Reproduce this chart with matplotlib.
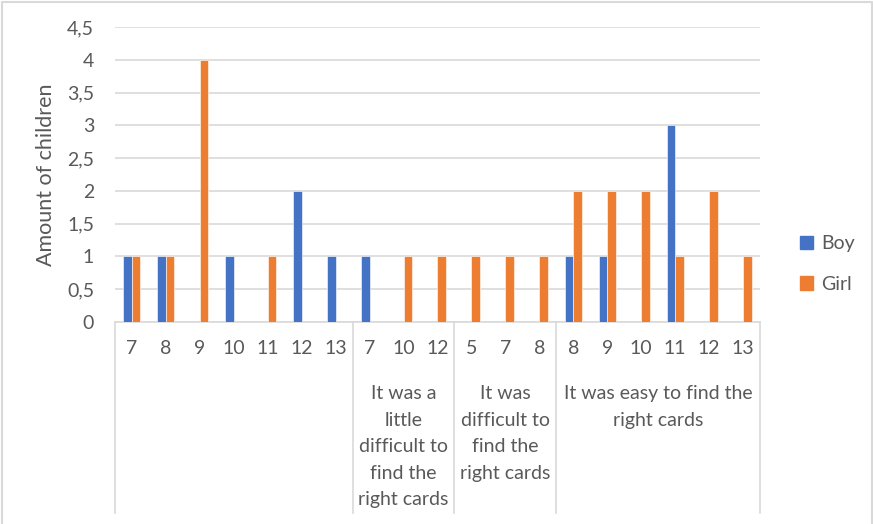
import numpy as np
import matplotlib.pyplot as plt
from matplotlib.lines import Line2D
from matplotlib.patches import Patch
import matplotlib.transforms as mtransforms

# Datos del gráfico
grupos = ["",
          "It was a\nlittle\ndifficult to\nfind the\nright cards",
          "It was\ndifficult to\nfind the\nright cards",
          "It was easy to find the\nright cards"]
edades = [["7", "8", "9", "10", "11", "12", "13"],
          ["7", "10", "12"],
          ["5", "7", "8"],
          ["8", "9", "10", "11", "12", "13"]]
boy = [1, 1, 0, 1, 0, 2, 1,
       1, 0, 0,
       0, 0, 0,
       1, 1, 0, 3, 0, 0]
girl = [1, 1, 4, 0, 1, 0, 0,
        0, 1, 1,
        1, 1, 1,
        2, 2, 2, 1, 2, 1]
yticks = [0, 0.5, 1, 1.5, 2, 2.5, 3, 3.5, 4, 4.5]

plt.rcParams['font.family'] = ['Lato', 'DejaVu Sans']
gris = "#595959"
linea = "#D9D9D9"
fs = 14

W, H = 873, 524
fig = plt.figure(figsize=(W / 100, H / 100), dpi=100)
x0, x1, y0, y1 = 115, 760, 322, 27
ax = fig.add_axes([x0 / W, 1 - y0 / H, (x1 - x0) / W, (y0 - y1) / H])

etiquetas = [e for g in edades for e in g]
x = np.arange(len(etiquetas))
ancho = 0.25
ax.bar(x - ancho / 2, boy, ancho, color="#4472C4", edgecolor="white", linewidth=0.4, label="Boy", zorder=3)
ax.bar(x + ancho / 2, girl, ancho, color="#ED7D31", edgecolor="white", linewidth=0.4, label="Girl", zorder=3)

ax.set_xlim(-0.5, len(etiquetas) - 0.5)
ax.set_ylim(0, 4.5)
ax.set_yticks(yticks)
ax.set_yticklabels([f"{v:g}".replace(".", ",") for v in yticks])
ax.set_xticks(x)
ax.set_xticklabels(etiquetas)
ax.tick_params(axis="both", length=0, labelsize=fs, labelcolor=gris)
ax.tick_params(axis="y", pad=15)
ax.tick_params(axis="x", pad=13)
ax.grid(axis="y", color=linea, linewidth=1.2, zorder=0)
for s in ["top", "right", "left"]:
    ax.spines[s].set_visible(False)
ax.spines["bottom"].set_color(linea)
ax.spines["bottom"].set_linewidth(1.2)
ax.set_ylabel("Amount of children", fontsize=15.5, color=gris, labelpad=8)

# Eje de categorías en dos niveles
trans = mtransforms.blended_transform_factory(ax.transData, ax.transAxes)
y_fondo = (y0 - 513) / (y0 - y1)
y_texto = (y0 - 385) / (y0 - y1)
inicio = 0
limites = [-0.5]
for g, e in zip(grupos, edades):
    fin = inicio + len(e)
    limites.append(fin - 0.5)
    centro = (inicio + fin - 1) / 2
    ax.text(centro, y_texto, g, transform=trans, ha="center", va="top",
            fontsize=fs, color=gris, linespacing=1.68)
    inicio = fin
for b in limites:
    ax.add_line(Line2D([b, b], [0, y_fondo], transform=trans, color=linea,
                       linewidth=1.2, clip_on=False))

# Leyenda
handles = [Patch(color="#4472C4", label="Boy"), Patch(color="#ED7D31", label="Girl")]
fig.legend(handles=handles, loc="center left", bbox_to_anchor=(782 / W, 1 - 264 / H),
           frameon=False, fontsize=fs, labelcolor=gris, handlelength=0.7,
           handleheight=0.7, handletextpad=0.4, labelspacing=1.2)

# Borde del área del gráfico
fig.add_artist(Line2D([1.5 / W, 1.5 / W, 871.5 / W, 871.5 / W], [0, 1 - 1.5 / H, 1 - 1.5 / H, 0],
                      transform=fig.transFigure, color=linea, linewidth=1.5))

fig.savefig("out.png", dpi=100)
